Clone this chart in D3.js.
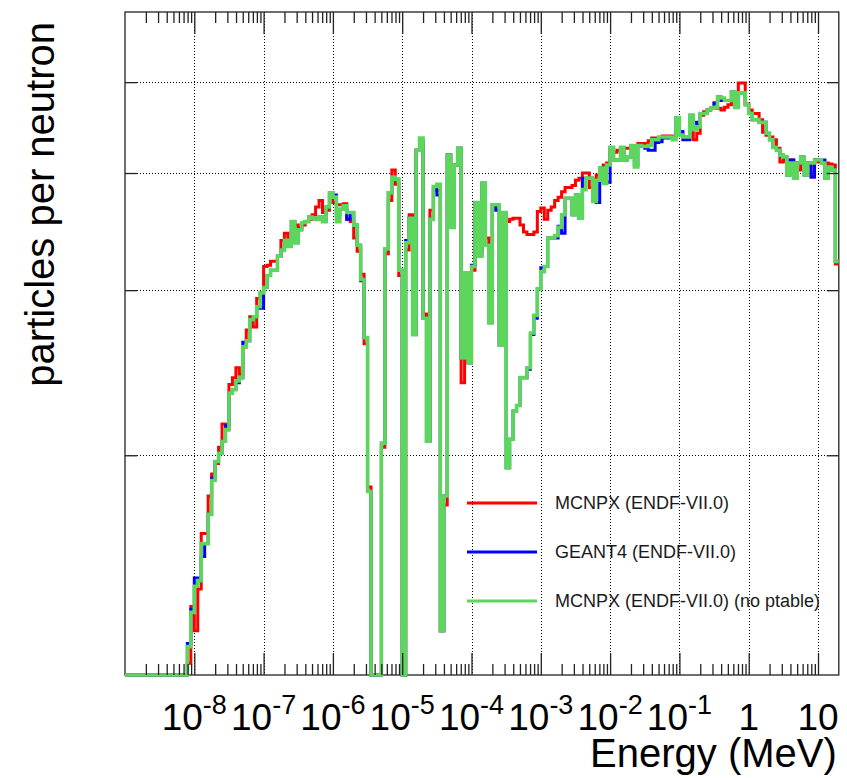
<!DOCTYPE html>
<html><head><meta charset="utf-8">
<script src="https://cdn.jsdelivr.net/npm/d3@7"></script>
<style>body{margin:0;background:#fff;} svg{display:block;}</style>
</head><body>
<svg id="chart" width="847" height="778"></svg>
<script>
// ---------------- DATA ----------------
// Histogram binning: log-uniform, 20 bins per decade, starting at 1e-9 MeV
const binsPerDecade = 20;
const firstEdgeExp = -9;
const nBins = 206;
const firstFilledBin = 18;   // bins before this one are empty (0)

// particles per neutron, bins 18..205
const mcnpx = [
 1.20,1.38,1.30,1.44,1.65,1.65,1.81,1.91,1.96,2.04,2.16,2.13,
 2.38,2.42,2.48,2.44,2.61,2.72,2.81,2.74,2.94,2.98,
 3.18,3.19,3.22,3.22,3.26,3.39,3.45,3.39,3.46,3.52,
 3.50,3.52,3.55,3.57,3.61,3.68,3.74,3.63,3.65,3.77,
 3.72,3.70,3.70,3.71,3.57,3.55,3.41,3.30,3.12,2.63,
 1.85,0,0,0,2.04,3.28,3.74,4.03,3.89,3.11,
 0,3.31,3.61,2.69,4.23,4.34,2.83,2.07,3.65,3.84,
 3.83,1.30,1.77,4.18,3.50,4.08,4.25,2.39,3.00,2.51,
 3.15,3.72,3.27,3.90,3.41,3.31,3.70,3.69,2.63,3.39,
 3.55,3.57,3.58,3.58,3.52,3.46,3.44,3.44,3.46,3.64,
 3.67,3.57,3.65,3.68,3.74,3.77,3.82,3.86,3.86,3.88,
 3.93,3.95,4.00,4.00,3.86,3.93,3.98,4.03,4.08,4.10,
 4.23,4.21,4.23,4.25,4.25,4.25,4.26,4.27,4.30,4.30,
 4.30,4.33,4.36,4.36,4.35,4.38,4.38,4.38,4.38,4.45,
 4.41,4.37,4.36,4.47,4.34,4.41,4.61,4.65,4.67,4.69,
 4.75,4.69,4.67,4.70,4.73,4.78,4.78,4.99,4.99,4.74,
 4.67,4.63,4.63,4.56,4.42,4.39,4.37,4.34,4.25,4.11,
 4.13,4.03,4.13,4.10,4.03,4.10,4.10,4.08,3.96,4.13,
 4.11,4.10,4.10,4.09,4.08,3.20
];
const geant4 = [
 1.26,1.37,1.48,1.47,1.56,1.61,1.73,1.89,1.97,2.01,2.07,2.15,
 2.33,2.35,2.39,2.42,2.64,2.65,2.79,2.81,2.88,2.87,
 3.02,3.11,3.15,3.15,3.26,3.31,3.39,3.34,3.55,3.37,
 3.48,3.54,3.55,3.59,3.58,3.57,3.59,3.55,3.68,3.81,
 3.79,3.61,3.66,3.66,3.57,3.63,3.52,3.35,3.07,2.67,
 1.83,0,0,0,2.06,3.32,3.81,3.96,3.94,3.15,
 0,3.39,3.58,2.69,4.23,4.32,2.80,2.07,3.57,3.87,
 3.79,1.30,1.81,4.18,3.50,4.08,4.25,2.54,3.11,2.51,
 3.19,3.72,3.29,3.90,3.35,2.77,3.70,3.65,2.62,3.63,
 1.94,2.08,2.23,2.26,2.42,2.42,2.47,2.69,2.80,3.01,
 3.17,3.18,3.41,3.41,3.41,3.51,3.45,3.76,3.76,3.61,
 3.79,3.58,3.95,3.95,3.95,3.73,3.72,4.05,3.92,3.91,
 4.26,4.13,4.13,4.26,4.13,4.16,4.28,4.08,4.28,4.27,
 4.25,4.23,4.23,4.31,4.32,4.37,4.36,4.37,4.37,4.58,
 4.43,4.34,4.34,4.61,4.53,4.50,4.63,4.63,4.67,4.69,
 4.75,4.82,4.78,4.78,4.78,4.88,4.70,4.87,4.87,4.73,
 4.63,4.56,4.56,4.53,4.53,4.41,4.34,4.26,4.23,4.18,
 4.16,3.98,4.13,3.95,4.10,4.16,3.98,4.10,3.96,4.13,
 4.13,4.13,3.95,4.06,4.03,3.22
];
const mcnpxNoPtable = [
 1.25,1.36,1.45,1.47,1.61,1.61,1.73,1.88,1.97,2.01,2.07,2.13,
 2.33,2.35,2.40,2.42,2.61,2.65,2.79,2.81,2.88,2.98,
 3.02,3.11,3.15,3.15,3.26,3.31,3.39,3.34,3.55,3.37,
 3.48,3.54,3.55,3.59,3.58,3.57,3.59,3.55,3.68,3.81,
 3.77,3.55,3.66,3.69,3.63,3.63,3.52,3.35,3.08,2.67,
 1.83,0,0,0,2.06,3.32,3.81,3.96,3.94,3.15,
 0,3.37,3.58,2.69,4.23,4.36,2.80,2.07,3.57,3.87,
 3.89,1.30,1.81,4.18,3.50,4.08,4.25,2.54,3.13,2.51,
 3.18,3.72,3.26,3.90,3.35,2.77,3.70,3.70,2.62,3.63,
 1.94,2.08,2.23,2.26,2.42,2.42,2.48,2.70,2.82,3.01,
 3.14,3.18,3.41,3.41,3.43,3.50,3.61,3.76,3.76,3.61,
 3.79,3.58,3.84,3.95,3.95,3.73,3.93,4.05,3.90,4.08,
 4.26,4.13,4.13,4.26,4.13,4.16,4.28,4.06,4.28,4.27,
 4.27,4.28,4.34,4.34,4.37,4.37,4.37,4.37,4.34,4.58,
 4.39,4.37,4.37,4.61,4.45,4.48,4.63,4.63,4.67,4.69,
 4.70,4.82,4.81,4.78,4.78,4.88,4.70,4.87,4.87,4.73,
 4.63,4.56,4.56,4.53,4.53,4.41,4.34,4.26,4.23,4.18,
 4.16,3.98,4.10,3.95,4.10,4.16,3.98,4.10,4.10,4.13,
 4.13,4.10,3.95,4.06,4.03,3.22
];

const seriesNames = ["MCNPX (ENDF-VII.0)", "GEANT4 (ENDF-VII.0)", "MCNPX (ENDF-VII.0) (no ptable)"];
const seriesColors = ["#ff0000", "#0000ff", "#5cd65c"];
const xTickExps = [-8, -7, -6, -5, -4, -3, -2, -1, 0, 1];
const xTickBase = ["10", "10", "10", "10", "10", "10", "10", "10", "1", "10"];
const xTickSup  = ["-8", "-7", "-6", "-5", "-4", "-3", "-2", "-1", "", ""];
const yTickValues = [2, 3, 4, 5];
const xTitle = "Energy (MeV)";
const yTitle = "particles per neutron";

// ---------------- LAYOUT ----------------
const L = 125, R = 838.8, T = 12, B = 675;
const svg = d3.select("#chart");
const font = "'Liberation Sans', Arial, Helvetica, sans-serif";

const x = d3.scaleLog().domain([Math.pow(10, firstEdgeExp), Math.pow(10, firstEdgeExp + nBins / binsPerDecade)]).range([L, R]);
const y = d3.scaleLog().domain([1.166, 5.94]).range([B, T]);
const crisp = v => Math.round(v) + 0.5;

// grid
const gGrid = svg.append("g").attr("shape-rendering", "crispEdges");
xTickExps.forEach(e => {
  const xp = crisp(x(Math.pow(10, e)));
  gGrid.append("line").attr("x1", xp).attr("x2", xp)
    .attr("y1", T).attr("y2", B).attr("stroke", "#000").attr("stroke-width", 1)
    .attr("stroke-dasharray", "1,2");
});
yTickValues.forEach(v => {
  const yp = crisp(y(v));
  gGrid.append("line").attr("x1", L).attr("x2", R).attr("y1", yp).attr("y2", yp)
    .attr("stroke", "#000").attr("stroke-width", 1).attr("stroke-dasharray", "1,2");
});

// frame
svg.append("rect").attr("x", L).attr("y", T).attr("width", R - L).attr("height", B - T)
  .attr("fill", "none").attr("stroke", "#222").attr("stroke-width", 1.3);

// histograms
function edge(i) { return Math.pow(10, firstEdgeExp + i / binsPerDecade); }
function yv(v) { return v > 0 ? y(v) : B; }
function histPoints(vals) {
  const pts = [];
  for (let i = 0; i < nBins; i++) {
    const v = i < firstFilledBin ? 0 : vals[i - firstFilledBin];
    pts.push([x(edge(i)), yv(v)]);
    pts.push([x(edge(i + 1)), yv(v)]);
  }
  return pts;
}
const line = d3.line();
const series = [mcnpx, geant4, mcnpxNoPtable];
const widths = [3, 3, 3.6];
series.forEach((s, k) => {
  svg.append("path").attr("d", line(histPoints(s))).attr("fill", "none")
    .attr("stroke", seriesColors[k]).attr("stroke-width", widths[k])
    .attr("stroke-linejoin", "miter").attr("stroke-linecap", "butt");
});

// axes ticks
const majorVals = xTickExps.map(e => Math.pow(10, e));
const minorVals = [];
for (let e = -9; e <= 1; e++) for (let m = 2; m <= 9; m++) {
  const v = m * Math.pow(10, e);
  if (v < Math.pow(10, 1.3)) minorVals.push(v);
}
function styleAxis(g) { g.select(".domain").remove(); g.selectAll("line").attr("stroke", "#222").attr("stroke-width", 1.3); g.selectAll("text").remove(); }
svg.append("g").attr("transform", `translate(0,${B})`).call(d3.axisBottom(x).tickValues(majorVals).tickSize(-22).tickFormat("")).call(styleAxis);
svg.append("g").attr("transform", `translate(0,${B})`).call(d3.axisBottom(x).tickValues(minorVals).tickSize(-11).tickFormat("")).call(styleAxis);
svg.append("g").attr("transform", `translate(0,${T})`).call(d3.axisTop(x).tickValues(majorVals).tickSize(-22).tickFormat("")).call(styleAxis);
svg.append("g").attr("transform", `translate(0,${T})`).call(d3.axisTop(x).tickValues(minorVals).tickSize(-11).tickFormat("")).call(styleAxis);
svg.append("g").attr("transform", `translate(${L},0)`).call(d3.axisLeft(y).tickValues(yTickValues).tickSize(-12).tickFormat("")).call(styleAxis);
svg.append("g").attr("transform", `translate(${R},0)`).call(d3.axisRight(y).tickValues(yTickValues).tickSize(-12).tickFormat("")).call(styleAxis);

// x tick labels
xTickExps.forEach((e, i) => {
  const t = svg.append("text").attr("x", x(Math.pow(10, e))).attr("y", 730)
    .attr("text-anchor", "middle").attr("font-family", font).attr("font-size", 37).attr("fill", "#000");
  t.append("tspan").text(xTickBase[i]);
  if (xTickSup[i]) t.append("tspan").attr("dy", -16).attr("font-size", 27).text(xTickSup[i]);
});

// axis titles
svg.append("text").attr("x", R - 2).attr("y", 767).attr("text-anchor", "end")
  .attr("font-family", font).attr("font-size", 40).attr("fill", "#000").text(xTitle);
svg.append("text").attr("transform", "translate(54,22) rotate(-90)").attr("text-anchor", "end")
  .attr("font-family", font).attr("font-size", 40).attr("fill", "#000").text(yTitle);

// legend
const legY = [503, 552, 601];
seriesNames.forEach((n, k) => {
  svg.append("line").attr("x1", 467).attr("x2", 537).attr("y1", legY[k]).attr("y2", legY[k])
    .attr("stroke", seriesColors[k]).attr("stroke-width", 3);
  svg.append("text").attr("x", 555).attr("y", legY[k]).attr("dy", "0.35em")
    .attr("font-family", font).attr("font-size", 18).attr("fill", "#1a1a1a").text(n);
});
</script>
</body></html>
